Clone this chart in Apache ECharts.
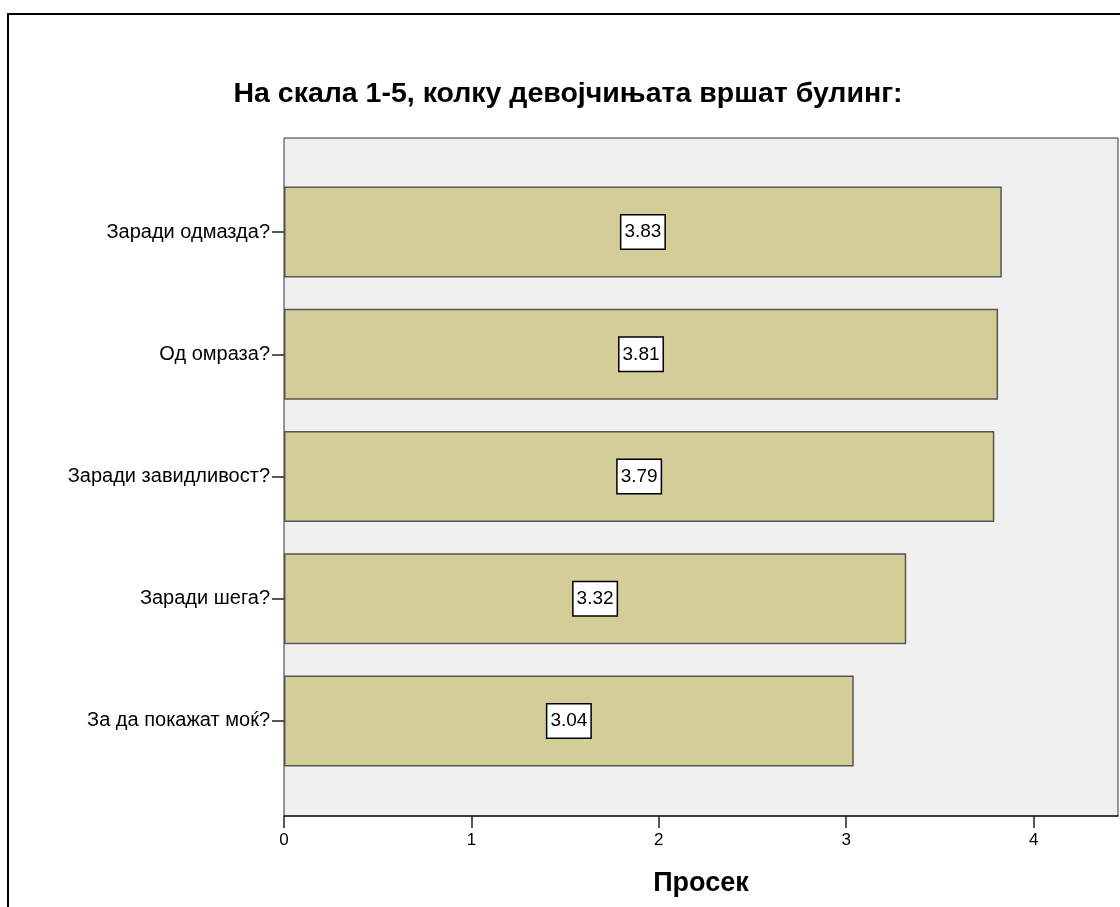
<!DOCTYPE html>
<html>
<head>
<meta charset="utf-8">
<script src="https://cdn.jsdelivr.net/npm/echarts@6/dist/echarts.min.js"></script>
<style>html,body{margin:0;padding:0;background:#fff;}#c{width:1120px;height:907px;}</style>
</head>
<body>
<div id="c"></div>
<script>
const titleText = 'На скала 1-5, колку девојчињата вршат булинг:';
const axisName = 'Просек';
const categories = ['Заради одмазда?', 'Од омраза?', 'Заради завидливост?', 'Заради шега?', 'За да покажат моќ?'];
const values = [3.83, 3.81, 3.79, 3.32, 3.04];
const xTicks = [0, 1, 2, 3, 4];
const xMax = 4.45;

const font = 'Liberation Sans, Arial, sans-serif';
const chart = echarts.init(document.getElementById('c'), null, {renderer: 'canvas'});
chart.setOption({
  animation: false,
  backgroundColor: '#ffffff',
  graphic: [
    {type: 'rect', shape: {x: 8, y: 14, width: 1200, height: 1000}, style: {fill: 'none', stroke: '#000', lineWidth: 2}, z: -10},
    {type: 'text', x: 568, y: 94, style: {text: titleText, font: 'bold 28.5px ' + font, fill: '#000', textAlign: 'center', textVerticalAlign: 'middle'}}
  ],
  grid: [
    {left: 284, right: 2, top: 138, bottom: 91, show: true, backgroundColor: '#f0f0f0', borderColor: '#333', borderWidth: 1},
    {left: 284, right: 2, top: 171, bottom: 125, show: false}
  ],
  xAxis: [
    {type: 'value', gridIndex: 0, min: 0, max: xMax, interval: 1,
     axisLine: {show: true, lineStyle: {color: '#222', width: 1.5}},
     axisTick: {show: true, inside: false, length: 12, lineStyle: {color: '#222', width: 1.5}, customValues: xTicks},
     axisLabel: {show: true, color: '#000', fontFamily: font, fontSize: 17, margin: 16, customValues: xTicks},
     splitLine: {show: false},
     name: axisName, nameLocation: 'middle', nameGap: 54,
     nameTextStyle: {color: '#000', fontFamily: font, fontSize: 27, fontWeight: 'bold'}},
    {type: 'value', gridIndex: 1, min: 0, max: xMax, interval: 1, show: false}
  ],
  yAxis: [
    {type: 'value', gridIndex: 0, show: false},
    {type: 'category', gridIndex: 1, data: categories, inverse: true,
     axisLine: {show: false},
     axisTick: {show: true, alignWithLabel: true, length: 12, lineStyle: {color: '#222', width: 1.5}},
     axisLabel: {color: '#000', fontFamily: font, fontSize: 20, margin: 14},
     splitLine: {show: false}}
  ],
  series: [{
    type: 'bar', xAxisIndex: 1, yAxisIndex: 1, data: values,
    barWidth: 91,
    itemStyle: {color: '#d3ce98', borderColor: '#555', borderWidth: 1.5},
    label: {show: true, position: 'inside', color: '#000', fontFamily: font, fontSize: 19, lineHeight: 20,
      backgroundColor: '#fff', borderColor: '#000', borderWidth: 1.5, padding: [7, 3, 6, 3],
      formatter: p => p.value.toFixed(2)}
  }]
});
</script>
</body>
</html>
